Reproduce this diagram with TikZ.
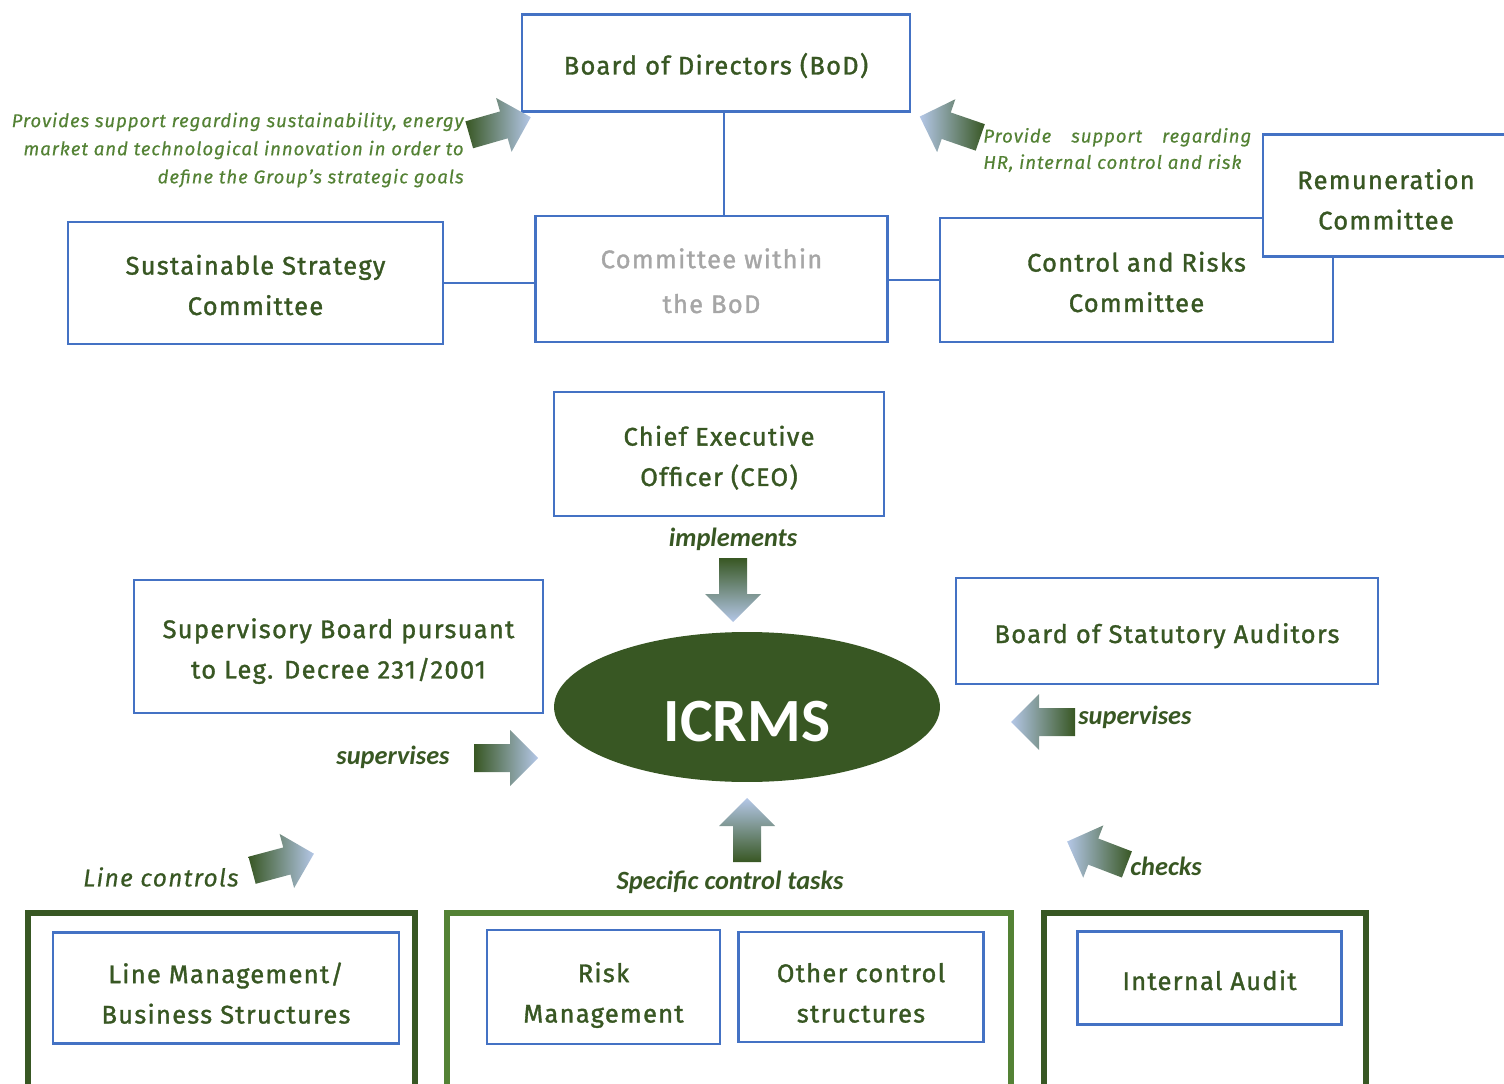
\documentclass[tikz,border=0pt]{standalone}
\usepackage{fontspec}
\setmainfont{Fira Sans}[LetterSpace=5]
\newfontfamily\boxfont{Fira Sans}[LetterSpace=5, FakeBold=1.3]
\newfontfamily\notefont{Fira Sans}[LetterSpace=5, FakeBold=0.4]
\newfontfamily\calibri{Carlito}
\usetikzlibrary{shapes.geometric}

\definecolor{boxblue}{HTML}{4472C4}
\definecolor{darkgreen}{HTML}{385723}
\definecolor{leafgreen}{HTML}{548235}
\definecolor{paleblue}{HTML}{B4C7E7}
\definecolor{mutedgray}{HTML}{A6A6A6}

\tikzset{
  % #1 = strut height, sets where the text sits in the box
  orgbox/.style={draw=boxblue, line width=1.6pt, fill=white, align=center,
    text=darkgreen, font=\boxfont\fontsize{14.5}{23}\selectfont, inner sep=0pt,
    execute at begin node={\rule{0pt}{#1}}, execute at end node={\rule[-0.14cm]{0pt}{0.14cm}}},
  orgbox/.default=1.42cm,
  unitframe/.style={draw=#1, line width=3.4pt},
  note/.style={text=leafgreen, font=\notefont\itshape\fontsize{10.6}{16}\selectfont, inner sep=0pt},
  verb/.style={text=darkgreen, font=\calibri\bfseries\itshape\fontsize{15}{18}\selectfont, inner sep=0pt},
  link/.style={draw=boxblue, line width=1.6pt},
  shade lr/.style={left color=darkgreen, right color=paleblue},
  shade rl/.style={left color=paleblue, right color=darkgreen},
  shade tb/.style={top color=darkgreen, bottom color=paleblue},
  shade bt/.style={top color=paleblue, bottom color=darkgreen},
  blockarrow/.pic={
    \shade[#1] (-32,-14) -- (4,-14) -- (4,-28) -- (32,0) -- (4,28) -- (4,14) -- (-32,14) -- cycle;
  }
}

\begin{document}
\begin{tikzpicture}[x=0.02cm, y=-0.02cm]
  \useasboundingbox (0,0) rectangle (1504,1084);
  \clip (0,0) rectangle (1504,1084);

  % board and its committees
  \node [orgbox=0.6cm, minimum width=7.76cm, minimum height=1.94cm] (bod) at (716,63) {Board of Directors (BoD)};
  \node [orgbox=1.5cm, minimum width=7.04cm, minimum height=2.52cm, text=mutedgray,
    font=\boxfont\fontsize{14.5}{25.5}\selectfont] (cwb) at (711.5,279) {Committee within\\ the BoD};
  \node [orgbox, minimum width=7.5cm, minimum height=2.44cm] (ssc) at (255.5,283) {Sustainable Strategy\\ Committee};
  \node [orgbox, minimum width=7.86cm, minimum height=2.48cm] (crc) at (1136.5,280) {Control and Risks\\ Committee};
  \node [orgbox=1.5cm, minimum width=4.92cm, minimum height=2.44cm] (remc) at (1386,195.5) {Remuneration\\ Committee};

  \coordinate (bodlink) at ([xshift=0.16cm]bod.south);
  \draw [link] (bodlink) -- (bodlink |- cwb.north);
  \draw [link] (ssc.east) -- (ssc.east -| cwb.west);
  \draw [link] (cwb.east |- crc.west) -- (crc.west);

  \node [note, align=right, anchor=east] (notessc) at (464,150)
    {Provides support regarding sustainability, energy\\ market and technological innovation in order to\\ define the Group’s strategic goals};
  \node [note, align=left, anchor=west, font=\notefont\itshape\fontsize{10.6}{15}\selectfont] (notecrc) at (983,150)
    {\makebox[5.36cm][s]{Provide support regarding}\\ HR, internal control and risk};

  % management and control bodies
  \node [orgbox, minimum width=6.6cm, minimum height=2.48cm] (ceo) at (719,454) {Chief Executive\\ Officer (CEO)};
  \node [orgbox, minimum width=8.18cm, minimum height=2.66cm] (sb) at (338.5,646.5) {Supervisory Board pursuant\\ to Leg. Decree 231/2001};
  \node [orgbox=0.62cm, minimum width=8.44cm, minimum height=2.12cm] (bsa) at (1167,631) {Board of Statutory Auditors};

  \node [ellipse, fill=darkgreen, minimum width=7.72cm, minimum height=3cm, inner sep=0pt, text height=1.4cm,
    text=white, font=\calibri\bfseries\fontsize{35}{40}\selectfont] (icrms) at (747,707) {ICRMS};

  \node [verb] (implements) at (733,539) {implements};
  \node [verb] (tasks) at (730,882) {Specific control tasks};
  \node [verb, anchor=east] (supsb) at (450,757) {supervises};
  \node [verb, anchor=west] (supbsa) at (1078,717) {supervises};
  \node [verb, anchor=west] (checks) at (1130,866) {checks};
  \node [text=darkgreen, font=\notefont\itshape\fontsize{14}{16}\selectfont, inner sep=0pt, anchor=east] (linectl) at (239,877) {Line controls};

  % block arrows
  \foreach \x/\y/\ang/\shd in {500/126/16/shade lr, 950/127/161/shade rl, 733/590/-90/shade tb,
      747/830/90/shade bt, 506/758/0/shade lr, 1043/722/180/shade rl, 283/862/15/shade lr, 1097/853/159/shade rl}
    \pic [rotate=\ang] at (\x,\y) {blockarrow=\shd};

  % three levels of control
  \draw [unitframe=darkgreen] (28,1100) |- (415,913) -- (415,1100);
  \draw [unitframe=leafgreen] (447,1100) |- (1011,913) -- (1011,1100);
  \draw [unitframe=darkgreen] (1044,1100) |- (1366,913) -- (1366,1100);

  \node [orgbox=1.56cm, minimum width=6.92cm, minimum height=2.22cm] (lmb) at (226,988) {Line Management/\\ Business Structures};
  \node [orgbox=1.56cm, minimum width=4.66cm, minimum height=2.28cm] (risk) at (603.5,987) {Risk\\ Management};
  \node [orgbox=1.56cm, minimum width=4.9cm, minimum height=2.2cm] (other) at (861,987) {Other control\\ structures};
  \node [orgbox=0.62cm, minimum width=5.28cm, minimum height=1.86cm] (audit) at (1209.5,978) {Internal Audit};
\end{tikzpicture}
\end{document}
